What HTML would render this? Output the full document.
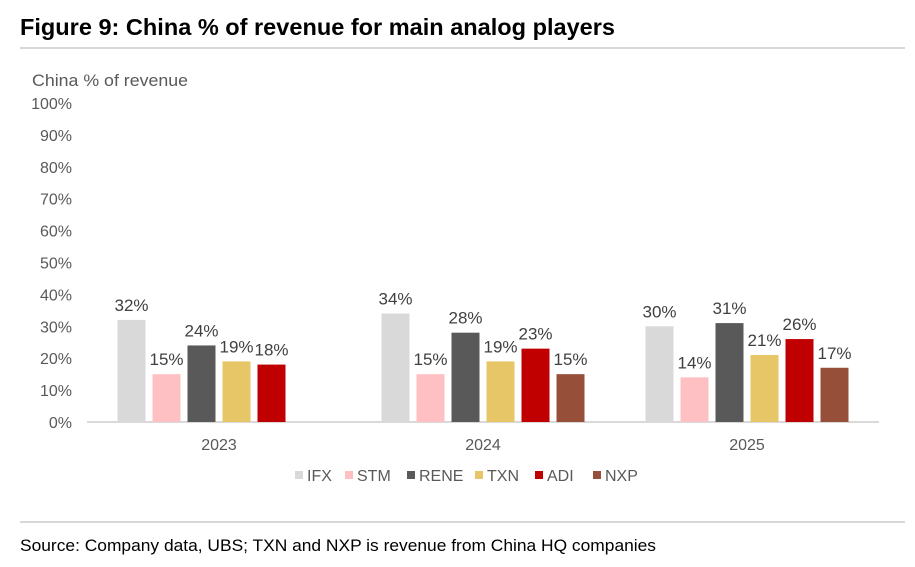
<!DOCTYPE html>
<html><head><meta charset="utf-8"><style>
body{margin:0;background:#fff;width:915px;height:562px;overflow:hidden;font-family:"Liberation Sans",sans-serif;}
</style></head><body>
<svg width="915" height="562" xmlns="http://www.w3.org/2000/svg">
<text x="20" y="35" font-size="23" font-weight="bold" fill="#000" textLength="595" lengthAdjust="spacingAndGlyphs">Figure 9: China % of revenue for main analog players</text>
<line x1="20" y1="48" x2="905" y2="48" stroke="#b0b0b0" stroke-width="1"/>
<text x="32" y="86" font-size="17" fill="#595959" textLength="156" lengthAdjust="spacingAndGlyphs">China % of revenue</text>
<g id="yticks"></g>
<line x1="87" y1="422" x2="879" y2="422" stroke="#d9d9d9" stroke-width="2"/>
<g id="bars"></g>
<g id="legend"></g>
<line x1="20" y1="522" x2="905" y2="522" stroke="#b0b0b0" stroke-width="1"/>
<text x="20" y="551" font-size="17" fill="#000" textLength="636" lengthAdjust="spacingAndGlyphs">Source: Company data, UBS; TXN and NXP is revenue from China HQ companies</text>
</svg>
<script>
const categories=["2023","2024","2025"];
const seriesNames=["IFX","STM","RENE","TXN","ADI","NXP"];
const seriesColors=["#d9d9d9","#ffc0c4","#595959","#e6c667","#c00000","#96503a"];
const IFX=[32,34,30];
const STM=[15,15,14];
const RENE=[24,28,31];
const TXN=[19,19,21];
const ADI=[18,23,26];
const NXP=[null,15,17];
const yTicks=[0,10,20,30,40,50,60,70,80,90,100];
const series=[IFX,STM,RENE,TXN,ADI,NXP];
const NS="http://www.w3.org/2000/svg";
const x0=87,catW=264,y0=422,pxPer=3.19,barW=28,step=35;
function y(v){return y0-v*pxPer;}
function mk(t,a,parent,txt){const e=document.createElementNS(NS,t);for(const k in a)e.setAttribute(k,a[k]);if(txt!==undefined)e.textContent=txt;parent.appendChild(e);return e;}
const yt=document.getElementById('yticks');
yTicks.forEach(v=>{const t=mk('text',{x:72,y:y(v)+6,'font-size':16,fill:'#595959','text-anchor':'end'},yt,v+'%');

});
const bg=document.getElementById('bars');
categories.forEach((c,i)=>{
 const cx=x0+catW*(i+0.5);
 const gx=cx-(seriesNames.length*step-(step-barW))/2;
 const lab=mk('text',{x:cx,y:y0+28,'font-size':16,fill:'#595959','text-anchor':'middle'},bg,c);
 
 
 series.forEach((s,j)=>{
  const v=s[i]; if(v==null)return;
  const bx=gx+j*step;
  const r=mk('rect',{x:bx,y:y(v),width:barW,height:v*pxPer,fill:seriesColors[j]},bg);
  
  
  const t=mk('text',{x:bx+barW/2,y:y(v)-9,'font-size':17,fill:'#404040','text-anchor':'middle'},bg,v+'%');
  
  
 });
});
const lg=document.getElementById('legend');
const lx=[295,345,407,475,535,593];
seriesNames.forEach((n,j)=>{
 const g=mk('g',{},lg);
 
 
 mk('rect',{x:lx[j],y:471,width:8,height:8,fill:seriesColors[j]},g);
 mk('text',{x:lx[j]+12,y:481,'font-size':16,fill:'#595959'},g,n);
});
</script>
</body></html>
